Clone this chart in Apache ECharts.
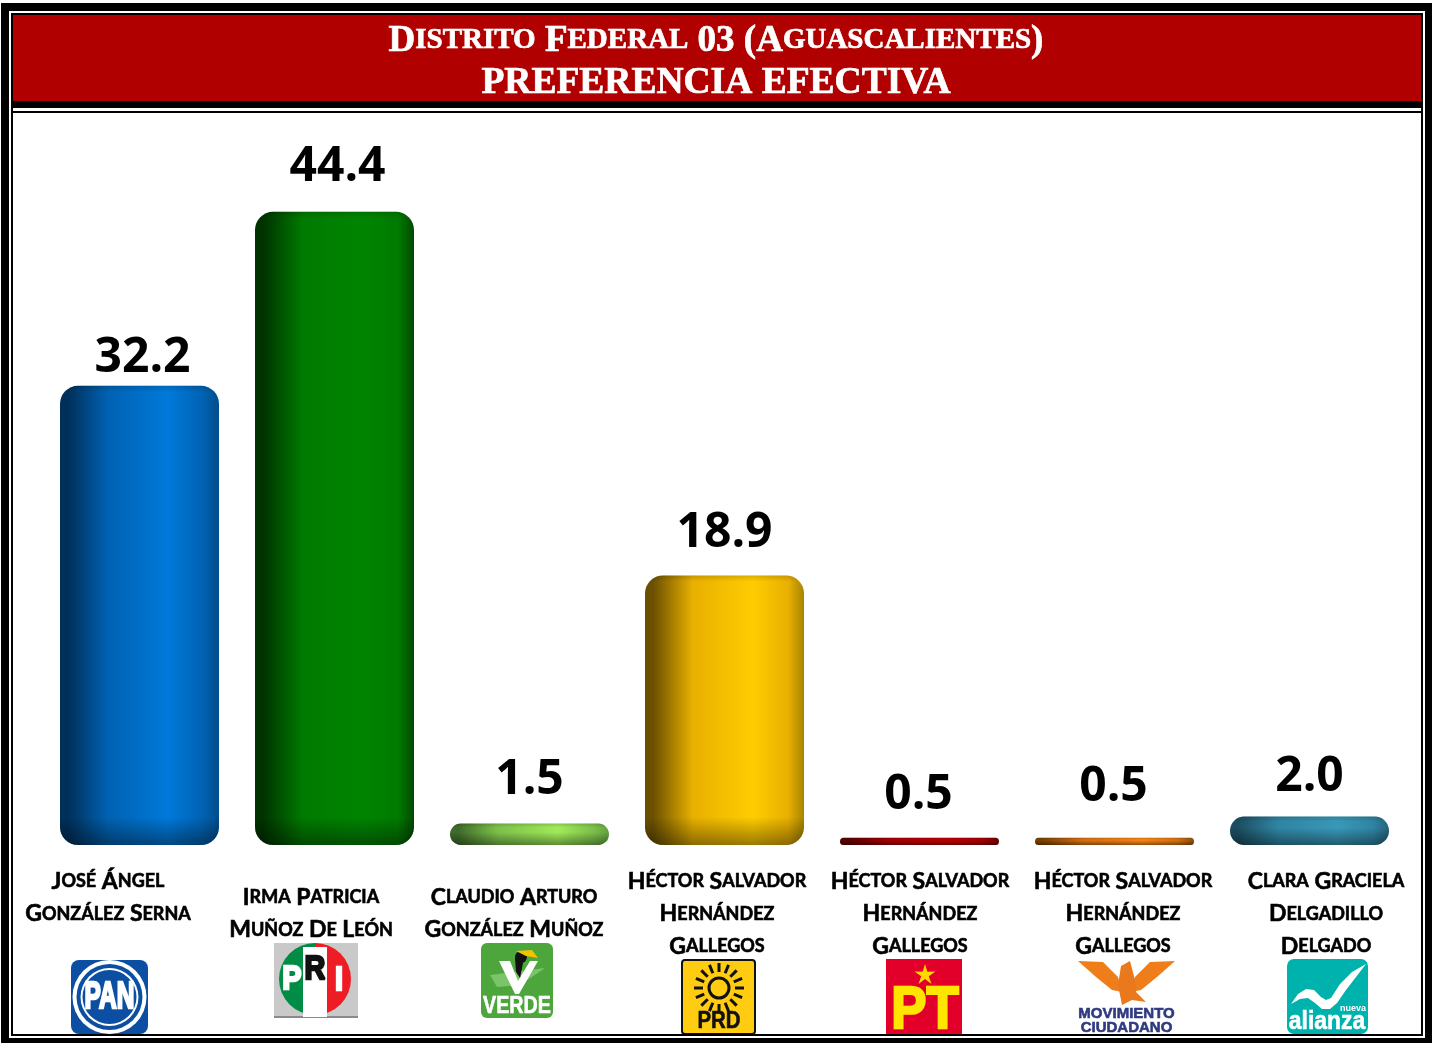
<!DOCTYPE html>
<html>
<head>
<meta charset="utf-8">
<title>Distrito Federal 03</title>
<script src="https://cdn.jsdelivr.net/npm/echarts@6/dist/echarts.min.js"></script>
<style>
  html, body { margin: 0; padding: 0; background: #fff; }
  #chart { width: 1432px; height: 1043px; }
</style>
</head>
<body>
<div id="chart"></div>
<script>
const titleLine1 = 'Distrito Federal 03 (Aguascalientes)'
const titleLine2 = 'PREFERENCIA EFECTIVA'

const parties = ['PAN', 'PRI', 'VERDE', 'PRD', 'PT', 'MC', 'NA']
const values = [32.2, 44.4, 1.5, 18.9, 0.5, 0.5, 2.0]
const candidates = [
  ['José Ángel', 'González Serna'],
  ['Irma Patricia', 'Muñoz De León'],
  ['Claudio Arturo', 'González Muñoz'],
  ['Héctor Salvador', 'Hernández', 'Gallegos'],
  ['Héctor Salvador', 'Hernández', 'Gallegos'],
  ['Héctor Salvador', 'Hernández', 'Gallegos'],
  ['Clara Graciela', 'Delgadillo', 'Delgado']
]
// the 2 line names of PRI and VERDE sit half a line lower
const nameGap = [0, 16, 16, 0, 0, 0, 0]

// [left edge, mid, brightest, right edge]
const barColors = [
  ['#00305a', '#0062b2', '#0079da', '#004d8c'],
  ['#003300', '#007a00', '#008500', '#004a00'],
  ['#3f6a2a', '#7cc04a', '#a0ea5a', '#64a040'],
  ['#6a5000', '#e8b000', '#ffcc00', '#a88400'],
  ['#5a0000', '#a00000', '#b80000', '#6a0000'],
  ['#7a4000', '#d06c10', '#f28214', '#8a4c08'],
  ['#1c4d60', '#2f84a2', '#3898b8', '#24627a']
]
const labelOffsets = [[3, 2], [3, -16], [0, -14], [0, -13], [-1, -14], [-1, -22], [0, -10]]

const yMax = 50
const gridBottomY = 845
const gridH = 713
const pxPerUnit = gridH / yMax

function smallCaps (text) {
  // Upper case letters and digits stay large, the rest becomes small capitals
  let out = ''
  let cur = ''
  let kind = ''
  for (const ch of text) {
    const isSmall = ch !== ch.toUpperCase()
    const k = isSmall ? 's' : 'c'
    if (k !== kind && cur) {
      out += '{' + kind + '|' + cur + '}'
      cur = ''
    }
    kind = k
    cur += ch.toUpperCase()
  }
  return out + '{' + kind + '|' + cur + '}'
}

function shadeStops (v) {
  const h = v * pxPerUnit
  const rim = Math.min(6 / h, 0.18)
  const start = Math.max(1 - 28 / h, 0.4)
  return [
    { offset: 0, color: 'rgba(0,0,0,0.15)' },
    { offset: rim, color: 'rgba(0,0,0,0)' },
    { offset: start, color: 'rgba(0,0,0,0)' },
    { offset: 1, color: 'rgba(0,0,0,0.4)' }
  ]
}

function rect (x, y, w, h, fill, r) {
  return { type: 'rect', shape: { x, y, width: w, height: h, r: r || 0 }, style: { fill } }
}
function circle (cx, cy, r, fill) {
  return { type: 'circle', shape: { cx, cy, r }, style: { fill } }
}
function poly (points, fill) {
  return { type: 'polygon', shape: { points }, style: { fill } }
}
function label (text, x, y, size, fill, font, extra) {
  return {
    type: 'text',
    x,
    y,
    scaleX: extra || 1,
    style: {
      text,
      fill,
      font: 'bold ' + size + 'px ' + (font || '"Liberation Sans Narrow", "Liberation Sans"'),
      textAlign: 'center',
      textVerticalAlign: 'middle',
      stroke: fill,
      lineWidth: size > 30 ? 2.5 : (size > 12 ? 0.6 : 0)
    }
  }
}

function logoPan () {
  return [
    rect(71, 960, 77, 74, '#0b4ea2', 8),
    circle(109.5, 997, 37, '#fff'),
    circle(109.5, 997, 33, '#0b4ea2'),
    circle(109.5, 997, 29, '#fff'),
    circle(109.5, 997, 27, '#0b4ea2'),
    label('PAN', 109.5, 998, 36, '#fff', null, 0.68)
  ]
}

function logoPri () {
  return [
    rect(274, 943, 84, 75, '#c9c9c9'),
    rect(274, 1016, 84, 2, '#8a8a8a'),
    { type: 'sector', shape: { cx: 315, cy: 979, r: 36, r0: 0, startAngle: Math.PI / 2, endAngle: Math.PI * 1.5 }, style: { fill: '#008c45' } },
    { type: 'sector', shape: { cx: 315, cy: 979, r: 36, r0: 0, startAngle: -Math.PI / 2, endAngle: Math.PI / 2 }, style: { fill: '#ee1c25' } },
    rect(303, 947, 24, 70, '#fff'),
    label('P', 292, 980, 34, '#fff', '"Liberation Sans"', 0.85),
    label('R', 315, 970, 34, '#111', '"Liberation Sans"', 0.85),
    label('I', 339, 981, 34, '#fff', '"Liberation Sans"', 0.85)
  ]
}

function logoVerde () {
  return [
    rect(481, 943, 72, 75, '#4da63c', 6),
    poly([[490, 975], [545, 968], [520, 985], [497, 987]], '#7cc46a'),
    poly([[499, 961], [510, 961], [518, 981], [530, 961], [538, 961], [519, 994], [515, 994]], '#fff'),
    circle(521, 957, 6, '#111'),
    poly([[516, 951], [532, 950], [538, 958], [526, 956]], '#f2c200'),
    poly([[515, 958], [524, 958], [520, 978], [516, 972]], '#111'),
    label('VERDE', 517, 1006, 24, '#fff', null, 0.82)
  ]
}

function logoPrd () {
  const rays = []
  for (let i = 0; i < 16; i++) {
    const a = i * Math.PI / 8
    rays.push({
      type: 'line',
      shape: {
        x1: 719 + Math.cos(a) * 16,
        y1: 988 + Math.sin(a) * 16,
        x2: 719 + Math.cos(a) * 25,
        y2: 988 + Math.sin(a) * 25
      },
      style: { stroke: '#111', lineWidth: 3 }
    })
  }
  return [
    { type: 'rect', shape: { x: 682, y: 960, width: 73, height: 74, r: 3 }, style: { fill: '#ffcc11', stroke: '#111', lineWidth: 2 } },
    { type: 'circle', shape: { cx: 719, cy: 988, r: 10 }, style: { fill: 'none', stroke: '#111', lineWidth: 3 } },
    ...rays,
    label('PRD', 719, 1021, 24, '#111', null, 0.85)
  ]
}

function logoPt () {
  const star = []
  for (let i = 0; i < 10; i++) {
    const a = -Math.PI / 2 + i * Math.PI / 5
    const r = i % 2 ? 4 : 11
    star.push([925 + Math.cos(a) * r, 975 + Math.sin(a) * r])
  }
  return [
    rect(886, 959, 76, 77, '#e2002b'),
    poly(star, '#ffd800'),
    label('PT', 925, 1011, 60, '#ffe600', null, 0.88)
  ]
}

function logoMc () {
  return [
    poly([[1078, 961], [1103, 962], [1118, 977], [1122, 992], [1112, 990], [1096, 977]], '#ef7d1a'),
    poly([[1175, 961], [1150, 962], [1135, 977], [1131, 992], [1141, 990], [1157, 977]], '#ef7d1a'),
    poly([[1121, 966], [1130, 961], [1135, 980], [1136, 992], [1146, 1002], [1132, 1000], [1122, 1005], [1118, 985]], '#e9791c'),
    label('MOVIMIENTO', 1126.5, 1014, 15, '#2f3a80', '"Liberation Sans"'),
    label('CIUDADANO', 1126.5, 1028, 15, '#2f3a80', '"Liberation Sans"')
  ]
}

function logoAlianza () {
  return [
    rect(1287, 959, 81, 75, '#00b2ae', 7),
    poly([
      [1291, 1004], [1298, 994], [1306, 989], [1314, 990], [1321, 997], [1326, 1000], [1331, 998],
      [1340, 984], [1352, 972], [1366, 964], [1356, 977], [1346, 990], [1337, 1003], [1330, 1009],
      [1322, 1009], [1315, 1003], [1308, 998], [1300, 999]
    ], '#fff'),
    label('alianza', 1327, 1022, 26, '#fff', '"Liberation Sans"', 0.88),
    label('nueva', 1353, 1009, 9, '#fff', '"Liberation Sans"')
  ]
}

// thick black frame, white keylines, red header band
const frame = [
  rect(1, 3, 1431, 8, '#000'),
  rect(1, 3, 8, 1040, '#000'),
  rect(1425, 3, 7, 1040, '#000'),
  rect(1, 1038, 1431, 5, '#000'),
  rect(11, 13, 1412, 2, '#000'),
  rect(11, 13, 2, 1023, '#000'),
  rect(1421, 13, 2, 1023, '#000'),
  rect(11, 1034, 1412, 2, '#000'),
  rect(9, 1036, 1416, 2, '#fff'),
  rect(13, 15, 1408, 86, '#b00000'),
  rect(11, 101, 1412, 7, '#000'),
  rect(11, 111, 1412, 2, '#000')
]

const chart = echarts.init(document.getElementById('chart'), null, { renderer: 'canvas' })

const titleText = { fontFamily: '"Liberation Serif"', fontWeight: 'bold', color: '#fff', lineHeight: 42, textBorderColor: '#fff', textBorderWidth: 0.7 }
const nameText = { fontFamily: 'Lato', fontWeight: 'bold', color: '#000', lineHeight: 32.5, textBorderColor: '#000', textBorderWidth: 0.6 }

chart.setOption({
  animation: false,
  backgroundColor: '#fff',
  title: {
    left: 'center',
    top: 15,
    text: smallCaps(titleLine1) + '\n{l|' + titleLine2 + '}',
    textStyle: {
      rich: {
        c: { ...titleText, fontSize: 37 },
        s: { ...titleText, fontSize: 29 },
        l: { ...titleText, fontSize: 37.5 }
      }
    }
  },
  grid: [
    { left: 42, width: 1365, top: gridBottomY - gridH, height: gridH },
    { left: 6.5, width: 1421, top: gridBottomY, height: 1 }
  ],
  xAxis: [
    { type: 'category', gridIndex: 0, data: parties, show: false },
    {
      type: 'category',
      gridIndex: 1,
      data: parties,
      axisLine: { show: false },
      axisTick: { show: false },
      axisLabel: {
        interval: 0,
        margin: 19,
        hideOverlap: false,
        formatter: function (value, i) {
          const lines = candidates[i].map(smallCaps)
          if (nameGap[i]) lines.unshift('{gap| }')
          return lines.join('\n')
        },
        rich: {
          c: { ...nameText, fontSize: 23 },
          s: { ...nameText, fontSize: 18 },
          gap: { fontSize: 10, lineHeight: 16 }
        }
      }
    }
  ],
  yAxis: [
    { type: 'value', gridIndex: 0, min: 0, max: yMax, show: false },
    { type: 'value', gridIndex: 1, show: false }
  ],
  graphic: {
    elements: [
      ...logoPan(),
      ...logoPri(),
      ...logoVerde(),
      ...logoPrd(),
      ...logoPt(),
      ...logoMc(),
      ...logoAlianza(),
      ...frame
    ]
  },
  series: [
    {
      // horizontal cylinder shading
      type: 'bar',
      barWidth: 159,
      silent: true,
      data: values.map((v, i) => ({
        value: v,
        itemStyle: {
          borderRadius: 18,
          color: {
            type: 'linear', x: 0, y: 0, x2: 1, y2: 0,
            colorStops: [
              { offset: 0, color: barColors[i][0] },
              { offset: 0.05, color: barColors[i][0] },
              { offset: 0.3, color: barColors[i][1] },
              { offset: 0.68, color: barColors[i][2] },
              { offset: 0.9, color: barColors[i][1] },
              { offset: 1, color: barColors[i][3] }
            ]
          }
        }
      }))
    },
    {
      // rim and bottom shadow on top, also carries the value label
      type: 'bar',
      barWidth: 159,
      barGap: '-100%',
      silent: true,
      data: values.map((v, i) => ({
        value: v,
        itemStyle: {
          borderRadius: 18,
          color: { type: 'linear', x: 0, y: 0, x2: 0, y2: 1, colorStops: shadeStops(v) }
        },
        label: {
          show: true,
          position: 'top',
          offset: labelOffsets[i],
          formatter: v.toFixed(1),
          fontFamily: '"Open Sans"',
          fontWeight: 'bold',
          fontSize: 48,
          color: '#000'
        }
      }))
    }
  ]
})
</script>
</body>
</html>
